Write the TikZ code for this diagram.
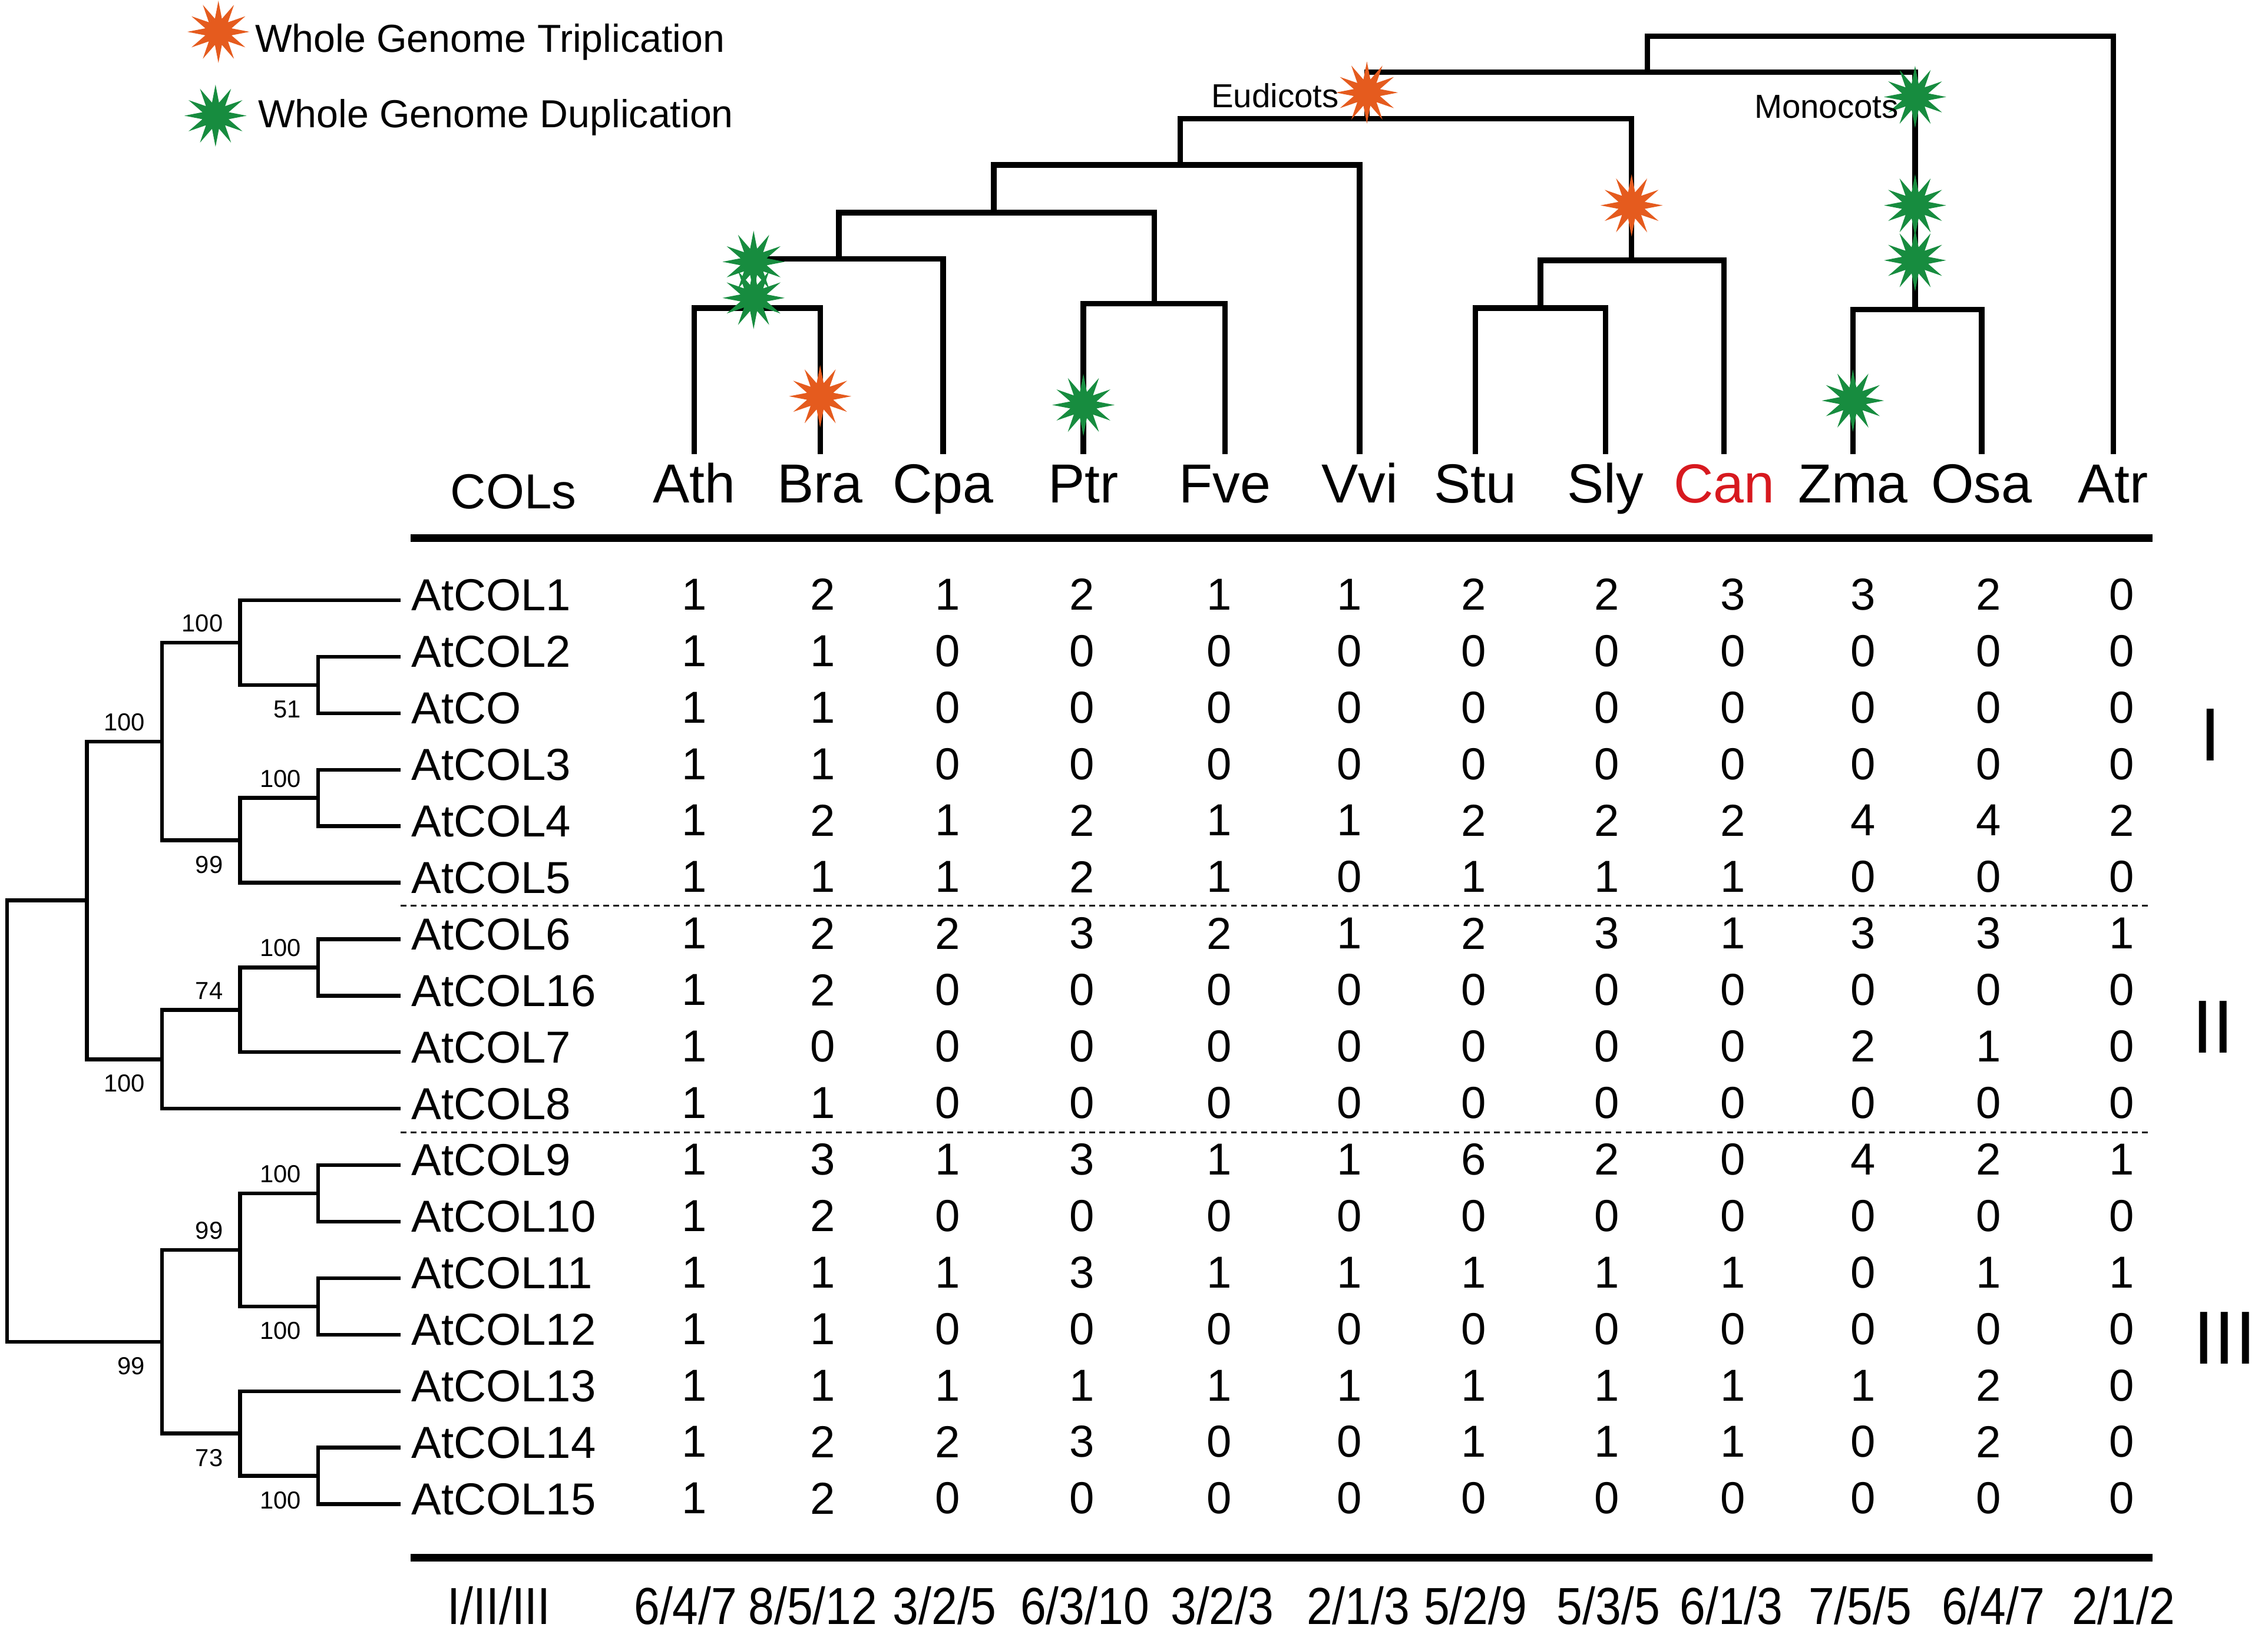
\documentclass[tikz,border=0pt]{standalone}
\usepackage{fontspec}
\setmainfont{Liberation Sans}
\usetikzlibrary{shapes.geometric}
\definecolor{wgtorange}{HTML}{E55B1E}
\definecolor{wgdgreen}{HTML}{178C3F}
\definecolor{canred}{HTML}{D7191F}
\newcommand{\narrowtot}[1]{\scalebox{0.89}[1]{#1}}
\tikzset{
  sptree/.style={line width=1.9pt},
  genetree/.style={line width=1.3pt},
  tablerule/.style={line width=2.6pt},
  groupsep/.style={line width=0.6pt, dash pattern=on 2pt off 1.5pt},
  wgt/.style={star, star points=12, star point ratio=2.3, fill=wgtorange, inner sep=0pt, minimum size=21.5pt},
  wgd/.style={star, star points=12, star point ratio=2.3, fill=wgdgreen, inner sep=0pt, minimum size=21.5pt},
  legend/.style={anchor=west, inner sep=0pt, font=\fontsize{13.5pt}{16pt}\selectfont},
  species/.style={anchor=north, inner xsep=1pt, inner ysep=3pt, text height=13.7pt, text depth=3.8pt, font=\fontsize{19pt}{22pt}\selectfont},
  colhead/.style={font=\fontsize{17pt}{20pt}\selectfont},
  cladelabel/.style={anchor=east, inner sep=0pt, font=\fontsize{11.5pt}{13pt}\selectfont},
  gene/.style={anchor=west, inner xsep=3.5pt, inner ysep=0pt, text height=11.2pt, text depth=3.9pt, font=\fontsize{15.5pt}{18pt}\selectfont},
  count/.style={inner sep=0pt, font=\fontsize{15.5pt}{18pt}\selectfont},
  bsup/.style={anchor=south east, inner sep=1pt, xshift=-4.75pt, yshift=2.5pt, font=\fontsize{8.5pt}{10pt}\selectfont},
  bsdown/.style={anchor=north east, inner sep=1pt, xshift=-4.75pt, yshift=-4.2pt, font=\fontsize{8.5pt}{10pt}\selectfont},
  group/.style={font=\fontsize{26pt}{30pt}\selectfont},
  total/.style={inner sep=0pt, font=\fontsize{18pt}{21pt}\selectfont}
}
\begin{document}
\begin{tikzpicture}[x=0.5pt,y=-0.5pt]
  \useasboundingbox (0,0) rectangle (1568,1129.4);
  % legend
  \node[wgt] (legwgt) at (151,22) {};
  \node[legend] (legwgttext) at (176,29) {Whole Genome Triplication};
  \node[wgd] (legwgd) at (149,80) {};
  \node[legend] (legwgdtext) at (178,81) {Whole Genome Duplication};
  % species
  \path
    (480,314) node[species] (ath) {Ath}
    (567,314) node[species] (bra) {Bra}
    (652,314) node[species] (cpa) {Cpa}
    (749,314) node[species] (ptr) {Ptr}
    (847,314) node[species] (fve) {Fve}
    (940,314) node[species] (vvi) {Vvi}
    (1020,314) node[species] (stu) {Stu}
    (1110,314) node[species] (sly) {Sly}
    (1192,314) node[species, text=canred] (can) {Can}
    (1281,314) node[species] (zma) {Zma}
    (1370,314) node[species] (osa) {Osa}
    (1461,314) node[species] (atr) {Atr};
  \node[colhead] (cols) at (355,340) {COLs};
  % species tree
  \coordinate (nAB) at (521,213);
  \coordinate (nABC) at (580,179);
  \coordinate (nPF) at (798,210);
  \coordinate (nABCPF) at (687,147);
  \coordinate (nRos) at (816,114);
  \coordinate (nSS) at (1065,213);
  \coordinate (nSSC) at (1128,180);
  \coordinate (nEud) at (945,82);
  \coordinate (nZO) at (1324,214);
  \coordinate (nAng) at (1139,50);
  \coordinate (nRoot) at (1300,25);
  \begin{scope}[sptree]
    \draw (ath.north) |- (nAB) -| (bra.north);
    \draw (nAB) |- (nABC) -| (cpa.north);
    \draw (ptr.north) |- (nPF) -| (fve.north);
    \draw (nABC) |- (nABCPF) -| (nPF);
    \draw (nABCPF) |- (nRos) -| (vvi.north);
    \draw (stu.north) |- (nSS) -| (sly.north);
    \draw (nSS) |- (nSSC) -| (can.north);
    \draw (nRos) |- (nEud) -| (nSSC);
    \draw (zma.north) |- (nZO) -| (osa.north);
    \draw (nEud) |- (nAng) -| (nZO);
    \draw (nAng) |- (nRoot) -| (atr.north);
  \end{scope}
  % polyploidy events
  \node[wgt] (wgtEud) at (945,64) {};
  \node[wgd] (wgdMono) at (1324,67) {};
  \node[wgd] (wgdMonoA) at (1324,142) {};
  \node[wgd] (wgdMonoB) at (1324,180) {};
  \node[wgt] (wgtAst) at (1128,142) {};
  \node[wgd] (wgdBrassA) at (521,181) {};
  \node[wgd] (wgdBrassB) at (521,206) {};
  \node[wgt] (wgtBra) at (567,274) {};
  \node[wgd] (wgdPtr) at (749,280) {};
  \node[wgd] (wgdZma) at (1281,277) {};
  \node[cladelabel] (eudicots) at (926,66) {Eudicots};
  \node[cladelabel] (monocots) at (1313,74) {Monocots};
  % table
  \draw[tablerule] (284,372) -- (1488,372);
  \draw[tablerule] (284,1077) -- (1488,1077);
  \foreach \gene/\counts [count=\r] in {
      AtCOL1/{1,2,1,2,1,1,2,2,3,3,2,0},
      AtCOL2/{1,1,0,0,0,0,0,0,0,0,0,0},
      AtCO/{1,1,0,0,0,0,0,0,0,0,0,0},
      AtCOL3/{1,1,0,0,0,0,0,0,0,0,0,0},
      AtCOL4/{1,2,1,2,1,1,2,2,2,4,4,2},
      AtCOL5/{1,1,1,2,1,0,1,1,1,0,0,0},
      AtCOL6/{1,2,2,3,2,1,2,3,1,3,3,1},
      AtCOL16/{1,2,0,0,0,0,0,0,0,0,0,0},
      AtCOL7/{1,0,0,0,0,0,0,0,0,2,1,0},
      AtCOL8/{1,1,0,0,0,0,0,0,0,0,0,0},
      AtCOL9/{1,3,1,3,1,1,6,2,0,4,2,1},
      AtCOL10/{1,2,0,0,0,0,0,0,0,0,0,0},
      AtCOL11/{1,1,1,3,1,1,1,1,1,0,1,1},
      AtCOL12/{1,1,0,0,0,0,0,0,0,0,0,0},
      AtCOL13/{1,1,1,1,1,1,1,1,1,1,2,0},
      AtCOL14/{1,2,2,3,0,0,1,1,1,0,2,0},
      AtCOL15/{1,2,0,0,0,0,0,0,0,0,0,0}} {
    \node[gene] (\gene) at (277,{415+39.06*(\r-1)}) {\gene};
    \foreach \v [count=\c] in \counts {
      \pgfmathsetmacro\cx{{480,569,655,748,843,933,1019,1111,1198,1288,1375,1467}[\c-1]}
      \node[count] (n\r-\c) at (\cx,{411+39.06*(\r-1)}) {\v};
    }
  }
  \draw[groupsep] (277,626) -- (1488,626);
  \draw[groupsep] (277,783) -- (1488,783);
  % gene tree
  \coordinate (g23) at (220,473.6);
  \coordinate (g1) at (166,444.3);
  \coordinate (g45) at (220,551.7);
  \coordinate (g6) at (166,581.0);
  \coordinate (gI) at (112,512.7);
  \coordinate (g78) at (220,668.9);
  \coordinate (g9) at (166,698.2);
  \coordinate (gII) at (112,732.4);
  \coordinate (gA) at (60,622.5);
  \coordinate (g1112) at (220,825.1);
  \coordinate (g1314) at (220,903.3);
  \coordinate (g1114) at (166,864.2);
  \coordinate (g1617) at (220,1020.4);
  \coordinate (g1517) at (166,991.1);
  \coordinate (gIII) at (112,927.7);
  \coordinate (groot) at (5,775.1);
  \begin{scope}[genetree]
    \draw (AtCOL2.west) -| (g23) |- (AtCO.west);
    \draw (AtCOL1.west) -| (g1) |- (g23);
    \draw (AtCOL3.west) -| (g45) |- (AtCOL4.west);
    \draw (g45) -| (g6) |- (AtCOL5.west);
    \draw (g1) -| (gI) |- (g6);
    \draw (AtCOL6.west) -| (g78) |- (AtCOL16.west);
    \draw (g78) -| (g9) |- (AtCOL7.west);
    \draw (g9) -| (gII) |- (AtCOL8.west);
    \draw (gI) -| (gA) |- (gII);
    \draw (AtCOL9.west) -| (g1112) |- (AtCOL10.west);
    \draw (AtCOL11.west) -| (g1314) |- (AtCOL12.west);
    \draw (g1112) -| (g1114) |- (g1314);
    \draw (AtCOL14.west) -| (g1617) |- (AtCOL15.west);
    \draw (AtCOL13.west) -| (g1517) |- (g1617);
    \draw (g1114) -| (gIII) |- (g1517);
    \draw (gA) -| (groot) |- (gIII);
  \end{scope}
  % bootstrap values
  \node[bsup] (b1) at (g1) {100};
  \node[bsdown] (b23) at (g23) {51};
  \node[bsup] (bI) at (gI) {100};
  \node[bsup] (b45) at (g45) {100};
  \node[bsdown] (b6) at (g6) {99};
  \node[bsup] (b78) at (g78) {100};
  \node[bsup] (b9) at (g9) {74};
  \node[bsdown] (bII) at (gII) {100};
  \node[bsup] (b1112) at (g1112) {100};
  \node[bsup] (b1114) at (g1114) {99};
  \node[bsdown] (b1314) at (g1314) {100};
  \node[bsdown] (bIII) at (gIII) {99};
  \node[bsdown] (b1517) at (g1517) {73};
  \node[bsdown] (b1617) at (g1617) {100};
  % groups
  \node[group] (grpI) at (1528,508) {I};
  \node[group] (grpII) at (1530,710) {II};
  \node[group] (grpIII) at (1538,925) {III};
  % totals
  \path
    (345,1110) node[total] (totals) {\narrowtot{I/II/III}}
    (474,1110) node[total] (tath) {\narrowtot{6/4/7}}
    (562,1110) node[total] (tbra) {\narrowtot{8/5/12}}
    (653,1110) node[total] (tcpa) {\narrowtot{3/2/5}}
    (750,1110) node[total] (tptr) {\narrowtot{6/3/10}}
    (845,1110) node[total] (tfve) {\narrowtot{3/2/3}}
    (939,1110) node[total] (tvvi) {\narrowtot{2/1/3}}
    (1020,1110) node[total] (tstu) {\narrowtot{5/2/9}}
    (1112,1110) node[total] (tsly) {\narrowtot{5/3/5}}
    (1197,1110) node[total] (tcan) {\narrowtot{6/1/3}}
    (1286,1110) node[total] (tzma) {\narrowtot{7/5/5}}
    (1378,1110) node[total] (tosa) {\narrowtot{6/4/7}}
    (1468,1110) node[total] (tatr) {\narrowtot{2/1/2}};
\end{tikzpicture}
\end{document}
